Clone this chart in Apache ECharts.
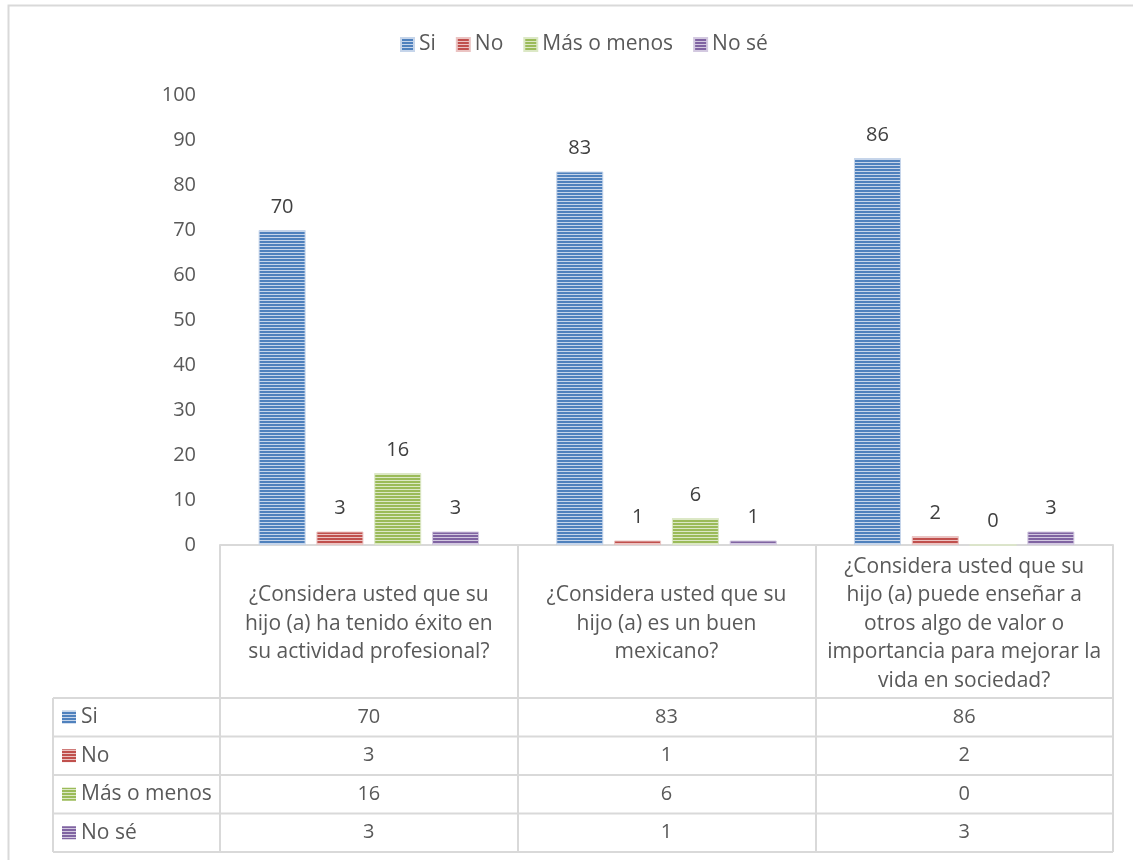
<!DOCTYPE html>
<html>
<head>
<meta charset="utf-8">
<script src="https://cdn.jsdelivr.net/npm/echarts@6/dist/echarts.min.js"></script>
<style>
  html, body { margin: 0; padding: 0; background: #fff; }
  #chart { width: 1133px; height: 860px; }
</style>
</head>
<body>
<div id="chart"></div>
<script>
// Survey answers per question
const categories = [
  "¿Considera usted que su\nhijo (a) ha tenido éxito en\nsu actividad profesional?",
  "¿Considera usted que su\nhijo (a) es un buen\nmexicano?",
  "¿Considera usted que su\nhijo (a) puede enseñar a\notros algo de valor o\nimportancia para mejorar la\nvida en sociedad?"
];
const seriesNames = ["Si", "No", "Más o menos", "No sé"];
const si = [70, 83, 86];
const no = [3, 1, 2];
const masOMenos = [16, 6, 0];
const noSe = [3, 1, 3];
const yTicks = [0, 10, 20, 30, 40, 50, 60, 70, 80, 90, 100];

const seriesValues = [si, no, masOMenos, noSe];
const baseColors = ["#4F81BD", "#C0504D", "#9BBB59", "#8064A2"];
const lightColors = ["#C6D5EA", "#EBC4C3", "#DCE8C6", "#D3C9E0"];

const FONT = "'Open Sans', Lato, sans-serif";
const FS = 21;      // words
const FS_NUM = 20;  // numbers
const TEXT = "#595959";
const LINE = "#D9D9D9";

// Horizontal-stripe fill: two dark rows, one light row
function stripes(dark, light) {
  const c = document.createElement("canvas");
  c.width = 4; c.height = 3;
  const ctx = c.getContext("2d");
  ctx.fillStyle = light; ctx.fillRect(0, 0, 4, 3);
  ctx.fillStyle = dark; ctx.fillRect(0, 1, 4, 2);
  return { image: c, repeat: "repeat" };
}
const fills = baseColors.map((c, i) => stripes(c, lightColors[i]));

const GRID = { left: 220, right: 20, top: 95, bottom: 315 };
const TABLE_LEFT = 53;
const HEADER_BOTTOM = 698;
const ROW_H = 38.5;

const chart = echarts.init(document.getElementById("chart"), null, { renderer: "canvas" });

chart.setOption({
  backgroundColor: "#fff",
  animation: false,
  textStyle: { fontFamily: FONT },
  legend: {
    top: 29,
    left: 395,
    itemWidth: 13,
    itemHeight: 13,
    itemGap: 20,
    icon: "rect",
    textStyle: { fontFamily: FONT, fontSize: FS, color: TEXT },
    data: seriesNames
  },
  grid: GRID,
  xAxis: {
    type: "category",
    data: categories,
    axisLine: { show: true, lineStyle: { color: LINE, width: 2 } },
    axisTick: { show: true, length: 307, lineStyle: { color: LINE, width: 2 } },
    axisLabel: {
      interval: 0,
      margin: 79,
      verticalAlign: "middle",
      fontFamily: FONT,
      fontSize: FS,
      lineHeight: 28.5,
      color: TEXT,
      align: "center"
    }
  },
  yAxis: {
    type: "value",
    min: 0,
    max: 100,
    interval: 10,
    axisLine: { show: false },
    axisTick: { show: false },
    splitLine: { show: false },
    axisLabel: {
      margin: 24,
      fontFamily: FONT,
      fontSize: FS_NUM,
      color: TEXT,
      formatter: v => (yTicks.includes(v) ? String(v) : "")
    }
  },
  series: seriesNames.map((name, i) => ({
    name,
    type: "bar",
    data: seriesValues[i],
    barWidth: 47,
    barGap: "23%",
    itemStyle: { color: fills[i], borderColor: lightColors[i], borderWidth: 1 },
    label: {
      show: true,
      position: "top",
      distance: 13,
      fontFamily: FONT,
      fontSize: FS_NUM,
      color: "#404040"
    }
  }))
});

// Data table below the plot
function buildTable() {
  const right = 1133 - GRID.right;
  const els = [];
  // outer frame of the chart area
  els.push({
    type: "rect", silent: true,
    shape: { x: 8.5, y: 5.5, width: 1140, height: 880 },
    style: { fill: null, stroke: LINE, lineWidth: 2 }
  });
  // row separators
  for (let r = 0; r <= seriesNames.length; r++) {
    const y = HEADER_BOTTOM + r * ROW_H;
    els.push({
      type: "line", silent: true,
      shape: { x1: TABLE_LEFT, y1: y, x2: right, y2: y },
      style: { stroke: LINE, lineWidth: 2 }
    });
  }
  // left edge of the row-label column
  els.push({
    type: "line", silent: true,
    shape: { x1: TABLE_LEFT, y1: HEADER_BOTTOM, x2: TABLE_LEFT, y2: HEADER_BOTTOM + seriesNames.length * ROW_H },
    style: { stroke: LINE, lineWidth: 2 }
  });
  seriesNames.forEach((name, r) => {
    const cy = HEADER_BOTTOM + r * ROW_H + ROW_H / 2;
    els.push({
      type: "rect", silent: true,
      shape: { x: 62, y: cy - 6.5, width: 14, height: 13 },
      style: { fill: fills[r] }
    });
    els.push({
      type: "text", silent: true,
      x: 81, y: cy,
      style: { text: name, font: FS + "px " + FONT, fill: TEXT, verticalAlign: "middle", align: "left" }
    });
    seriesValues[r].forEach((v, c) => {
      const cx = chart.convertToPixel({ xAxisIndex: 0 }, c);
      els.push({
        type: "text", silent: true,
        x: cx, y: cy,
        style: { text: String(v), font: FS_NUM + "px " + FONT, fill: TEXT, verticalAlign: "middle", align: "center" }
      });
    });
  });
  chart.setOption({ graphic: { elements: els } });
}
buildTable();
</script>
</body>
</html>
